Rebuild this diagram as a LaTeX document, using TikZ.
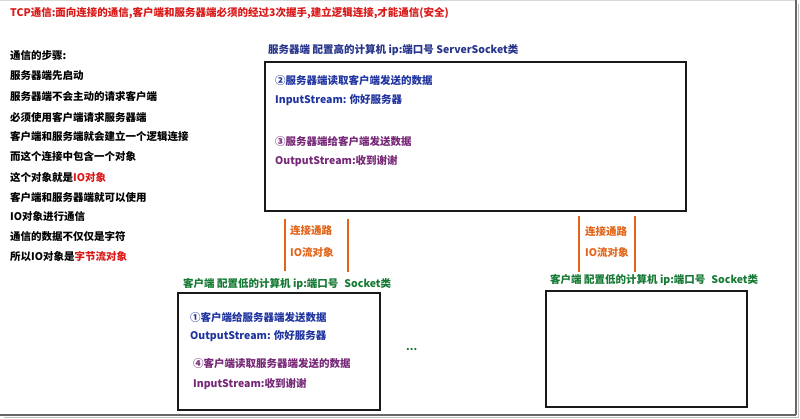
\documentclass[tikz,border=0pt]{standalone}
\usepackage{fontspec}
\setmainfont{Noto Sans CJK SC}
\definecolor{tred}{RGB}{218,24,24}
\definecolor{snavy}{RGB}{38,52,140}
\definecolor{sblue}{RGB}{32,52,160}
\definecolor{spurple}{RGB}{118,40,118}
\definecolor{iorange}{RGB}{226,100,24}
\definecolor{cgreen}{RGB}{22,122,52}
\begin{document}
\begin{tikzpicture}[x=1pt,y=-1pt,
  txt/.style={anchor=west,inner sep=0pt,font=\bfseries\fontsize{10.5}{12}\selectfont},
  box/.style={draw=black!90,line width=2.5pt},
  link/.style={draw=iorange,line width=2.2pt}]
\useasboundingbox (0,0) rectangle (800,419);
\fill[white] (0,0) rectangle (800,419);
% screenshot frame
\draw[color=black!15,line width=1pt] (0,1) -- (795,1);
\draw[color=black!60,line width=2pt] (796,0) -- (796,415);
\draw[color=black!60,line width=2pt] (0,415) -- (796,415);
\draw[color=black!25,line width=1pt] (798,4) -- (798,417) -- (4,417);

\node[txt,text=tred] (title) at (10,13) {TCP通信:面向连接的通信,客户端和服务器端必须的经过3次握手,建立逻辑连接,才能通信(安全)};

\node[txt] (s1) at (10,56) {通信的步骤:};
\node[txt] (s2) at (10,76) {服务器端先启动};
\node[txt] (s3) at (10,96) {服务器端不会主动的请求客户端};
\node[txt] (s4) at (10,117) {必须使用客户端请求服务器端};
\node[txt] (s5) at (10,137) {客户端和服务端就会建立一个逻辑连接};
\node[txt] (s6) at (10,157) {而这个连接中包含一个对象};
\node[txt] (s7) at (10,177) {这个对象就是\textcolor{tred}{IO对象}};
\node[txt] (s8) at (10,197) {客户端和服务器端就可以使用};
\node[txt] (s9) at (10,217) {IO对象进行通信};
\node[txt] (s10) at (10,237) {通信的数据不仅仅是字符};
\node[txt] (s11) at (10,257) {所以IO对象是\textcolor{tred}{字节流对象}};

% server
\node[txt,text=snavy] (slabel) at (268,50) {服务器端 配置高的计算机 ip:端口号 ServerSocket类};
\draw[box] (265,62) rectangle (686,211);
\coordinate (sbox) at (475,136);
\node[txt,text=sblue] (sa) at (275,80) {②服务器端读取客户端发送的数据};
\node[txt,text=sblue] (sb) at (275,100) {InputStream: 你好服务器};
\node[txt,text=spurple] (sc) at (275,141) {③服务器端给客户端发送数据};
\node[txt,text=spurple] (sd) at (275,161) {OutputStream:收到谢谢};

% IO links
\coordinate (l1a) at (285,219); \coordinate (l1b) at (285,271);
\coordinate (l2a) at (348,219); \coordinate (l2b) at (348,272);
\draw[link] (l1a) -- (l1b);
\draw[link] (l2a) -- (l2b);
\node[txt,text=iorange] (io1a) at (290,231) {连接通路};
\node[txt,text=iorange] (io1b) at (290,252) {IO流对象};
\coordinate (l3a) at (579,216); \coordinate (l3b) at (579,272);
\coordinate (l4a) at (635,216); \coordinate (l4b) at (635,272);
\draw[link] (l3a) -- (l3b);
\draw[link] (l4a) -- (l4b);
\node[txt,text=iorange] (io2a) at (585,232) {连接通路};
\node[txt,text=iorange] (io2b) at (585,252) {IO流对象};

% client 1
\node[txt,text=cgreen] (c1label) at (183,284) {客户端 配置低的计算机 ip:端口号\hspace{6pt}Socket类};
\draw[box] (178,293) rectangle (380,410);
\node[txt,text=sblue] (ca) at (190,317) {①客户端给服务器端发送数据};
\node[txt,text=sblue] (cb) at (190,336) {OutputStream: 你好服务器};
\node[txt,text=spurple] (cc) at (193,363) {④客户端读取服务器端发送的数据};
\node[txt,text=spurple] (cd) at (193,384) {InputStream:收到谢谢};

\node[txt,text=cgreen] (dots) at (406,349) {...};

% client 2
\node[txt,text=cgreen] (c2label) at (550,280) {客户端 配置低的计算机 ip:端口号\hspace{6pt}Socket类};
\draw[box] (546,291) rectangle (747,407);
\end{tikzpicture}
\end{document}
